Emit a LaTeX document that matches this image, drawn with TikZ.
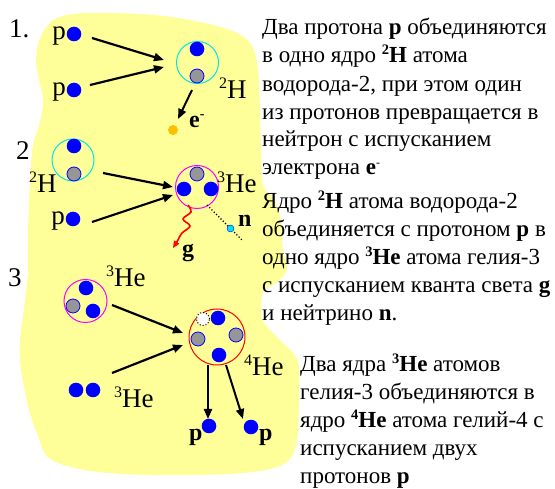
\documentclass[tikz,border=0pt]{standalone}
\usepackage{fontspec}
\setmainfont{Liberation Serif}
\usetikzlibrary{arrows.meta}

\definecolor{blobyellow}{RGB}{255,255,153}
\definecolor{pblue}{RGB}{0,0,255}
\definecolor{ngray}{RGB}{150,150,150}
\definecolor{shellcyan}{RGB}{0,230,230}
\definecolor{shellmag}{RGB}{255,0,255}
\definecolor{shellred}{RGB}{255,0,0}
\definecolor{eorange}{RGB}{255,192,0}

% small raised numbers for isotope labels
\newcommand\dsup[1]{\raisebox{10pt}{\fontsize{16}{16}\selectfont #1}}
\newcommand\tsup[1]{\raisebox{8pt}{\fontsize{14.5}{14.5}\selectfont\bfseries #1}}

\begin{document}
\begin{tikzpicture}[x=1pt,y=-1pt,
  proton/.style={circle, fill=pblue, minimum size=14.6pt, inner sep=0pt},
  neutron/.style={circle, fill=ngray, draw=pblue, line width=0.8pt, minimum size=14pt, inner sep=0pt},
  shell/.style={circle, line width=1pt, inner sep=0pt},
  lbl/.style={inner sep=0pt, font=\fontsize{27}{30}\selectfont},
  blbl/.style={inner sep=0pt, anchor=base west, font=\fontsize{24}{26}\selectfont\bfseries},
  txt/.style={inner sep=0pt, anchor=base west, font=\fontsize{23}{28}\selectfont},
  arr/.style={-{Triangle[length=10pt,width=8pt]}, line width=2.2pt}]
\useasboundingbox (0,0) rectangle (555,489);

% yellow background patch
\fill[blobyellow] plot[smooth cycle, tension=0.55] coordinates {
  (36,60) (40,38) (52,21) (72,14) (110,13) (155,15) (200,22) (235,32)
  (252,46) (258,70) (260,110) (261,150) (263,185) (272,196) (280,215)
  (283,250) (287,270) (276,283) (263,292) (262,318) (272,332) (286,346)
  (298,362) (299,400) (297,440) (289,460) (270,469) (230,474) (150,475)
  (90,471) (50,459) (38,436) (29,410) (21,370) (20,340) (25,300)
  (28,270) (28,230) (30,180) (33,145) (40,122) (43,100) (39,80)};

% ---------- step 1 ----------
\node[lbl, anchor=base west] (num1) at (9,38) {1.};
\node[proton] (p1a) at (74,34) {};
\node[lbl, anchor=base east] (p1aL) at (66,40) {p};
\node[proton] (p1b) at (74,90) {};
\node[lbl, anchor=base east] (p1bL) at (66,96) {p};
\node[shell, draw=shellcyan, minimum size=42pt] (d1) at (197.5,62.5) {};
\node[proton] (d1p) at (197,49) {};
\node[neutron] (d1n) at (197,76) {};
\node[lbl, anchor=base west] (d1L) at (219,99) {\dsup{2}H};
\node[circle, fill=eorange, minimum size=10pt, inner sep=0pt] (el) at (173,130) {};
\node[blbl] (elL) at (189,128) {e\raisebox{9pt}{\fontsize{14}{14}\selectfont -}};
\coordinate (a1s) at (92,38);  \coordinate (a1e) at (164,60);
\coordinate (a2s) at (90,85);  \coordinate (a2e) at (164,67);
\coordinate (a3s) at (192,90); \coordinate (a3e) at (178,119);
\draw[arr] (a1s) -- (a1e);
\draw[arr] (a2s) -- (a2e);
\draw[arr, line width=2pt] (a3s) -- (a3e);

% ---------- step 2 ----------
\node[lbl, anchor=base west] (num2) at (16,160) {2};
\node[shell, draw=shellcyan, minimum size=42pt] (d2) at (73,160) {};
\node[proton] (d2p) at (74,146) {};
\node[neutron] (d2n) at (74,174) {};
\node[lbl, anchor=base west] (d2L) at (29,193) {\dsup{2}H};
\node[proton] (p2) at (73,219) {};
\node[lbl, anchor=base east] (p2L) at (65,225) {p};
\node[shell, draw=shellmag, minimum size=43pt] (he3) at (197,187) {};
\node[neutron] (he3n) at (197,174) {};
\node[proton] (he3a) at (184,189) {};
\node[proton] (he3b) at (211,189) {};
\node[lbl, anchor=base west] (he3L) at (217,193) {\dsup{3}He};
\coordinate (b1s) at (103,173); \coordinate (b1e) at (173,187);
\coordinate (b2s) at (92,222);  \coordinate (b2e) at (173,195);
\draw[arr] (b1s) -- (b1e);
\draw[arr] (b2s) -- (b2e);
% gamma quantum
\coordinate (gs) at (188,205);
\coordinate (ge) at (173,248);
\draw[shellred, line width=1.6pt, -{Triangle[length=7pt,width=6pt]}]
  plot[smooth, tension=0.6] coordinates {(188,205) (191,212) (183,219) (190,226) (182,233) (178,240)} -- (ge);
\node[blbl] (gL) at (182,257) {g};
% neutrino
\coordinate (ns) at (207,205);
\coordinate (ne) at (242,240);
\draw[line width=1.2pt, dotted] (ns) -- (ne);
\node[circle, fill=shellcyan, draw=pblue, line width=0.4pt, minimum size=7pt, inner sep=0pt] (nu) at (230.5,228.5) {};
\node[blbl] (nL) at (238,227) {n};

% ---------- step 3 ----------
\node[lbl, anchor=base west] (num3) at (8,287) {3};
\node[shell, draw=shellmag, minimum size=43pt] (he3c) at (85.5,301) {};
\node[proton] (he3cp1) at (86,288) {};
\node[neutron] (he3cn) at (73,306) {};
\node[proton] (he3cp2) at (93,311) {};
\node[lbl, anchor=base west] (he3cL) at (106,287) {\dsup{3}He};
\node[proton] (he3dp1) at (76,390) {};
\node[proton] (he3dp2) at (93,390) {};
\node[lbl, anchor=base west] (he3dL) at (114,408) {\dsup{3}He};
\node[shell, draw=shellred, minimum size=56pt] (he4) at (217,337) {};
\node[circle, fill=white, draw=black, dotted, line width=1pt, minimum size=13pt, inner sep=0pt] (hole) at (203,319) {};
\node[proton] (he4p1) at (218,318) {};
\node[neutron] (he4n1) at (198,339) {};
\node[neutron] (he4n2) at (236,335) {};
\node[proton] (he4p2) at (219,355) {};
\node[lbl, anchor=base west] (he4L) at (244,376) {\dsup{4}He};
\coordinate (c1s) at (112,305); \coordinate (c1e) at (183,333);
\coordinate (c2s) at (112,373); \coordinate (c2e) at (183,345);
\draw[arr] (c1s) -- (c1e);
\draw[arr] (c2s) -- (c2e);
\node[proton] (po1) at (209,426) {};
\node[proton] (po2) at (251,427) {};
\coordinate (d1s) at (208,365); \coordinate (d1e) at (208,419);
\coordinate (d2s) at (226,365); \coordinate (d2e) at (243,419);
\draw[arr, line width=2pt] (d1s) -- (d1e);
\draw[arr, line width=2pt] (d2s) -- (d2e);
\node[blbl] (po1L) at (189,441) {p};
\node[blbl] (po2L) at (259,441) {p};

% ---------- explanations ----------
\node[txt] (t1) at (262,35)  {Два протона \textbf{p} объединяются};
\node[txt] (t2) at (262,63)  {в одно ядро \tsup{2}\textbf{H} атома};
\node[txt] (t3) at (262,92)  {водорода-2, при этом один};
\node[txt] (t4) at (262,120) {из протонов превращается в};
\node[txt] (t5) at (262,147) {нейтрон с испусканием};
\node[txt] (t6) at (262,175) {электрона \textbf{e}\raisebox{8pt}{\fontsize{12}{12}\selectfont -}};

\node[txt] (u1) at (262,209) {Ядро \tsup{2}\textbf{H} атома водорода-2};
\node[txt] (u2) at (262,237) {объединяется с протоном \textbf{p} в};
\node[txt] (u3) at (262,265) {одно ядро \tsup{3}\textbf{He} атома гелия-3};
\node[txt] (u4) at (262,293) {с испусканием кванта света \textbf{g}};
\node[txt] (u5) at (262,321) {и нейтрино \textbf{n}.};

\node[txt] (v1) at (300,372) {Два ядра \tsup{3}\textbf{He} атомов};
\node[txt] (v2) at (300,400) {гелия-3 объединяются в};
\node[txt] (v3) at (300,428) {ядро \tsup{4}\textbf{He} атома гелий-4 с};
\node[txt] (v4) at (300,455) {испусканием двух};
\node[txt] (v5) at (300,483) {протонов \textbf{p}};
\end{tikzpicture}
\end{document}
